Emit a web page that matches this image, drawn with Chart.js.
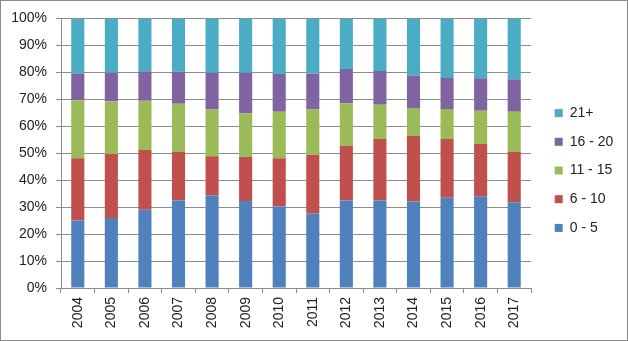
<!DOCTYPE html>
<html>
<head>
<meta charset="utf-8">
<script src="https://cdn.jsdelivr.net/npm/chart.js@4.4.0/dist/chart.umd.min.js"></script>
<style>
    body { margin: 0; background: #fff; }
    #wrap { width: 626px; height: 339px; border: 1px solid #8c8c8c; }
</style>
</head>
<body>
<div id="wrap"><canvas id="ageChart" width="626" height="339"></canvas></div>
<script>
// Chart data (share of each age band, %)
const years = ['2004', '2005', '2006', '2007', '2008', '2009', '2010', '2011', '2012', '2013', '2014', '2015', '2016', '2017'];
const band0to5 = [25.0, 26.0, 29.0, 32.5, 34.3, 32.3, 30.2, 27.6, 32.5, 32.5, 32.1, 33.5, 34.0, 31.8];
const band6to10 = [23.1, 23.7, 22.2, 17.9, 14.6, 16.3, 17.9, 21.8, 20.2, 22.8, 24.3, 21.8, 19.4, 18.6];
const band11to15 = [21.5, 19.6, 18.3, 17.9, 17.3, 16.2, 17.3, 16.8, 15.8, 12.7, 10.4, 11.1, 12.3, 15.0];
const band16to20 = [10.0, 10.5, 10.9, 11.9, 13.6, 15.0, 14.0, 13.4, 12.7, 12.5, 12.0, 11.5, 12.1, 12.0];
const band21plus = [20.4, 20.2, 19.6, 19.8, 20.2, 20.2, 20.6, 20.4, 18.8, 19.5, 21.2, 22.1, 22.2, 22.6];
const yTicks = [0, 10, 20, 30, 40, 50, 60, 70, 80, 90, 100];

const FONT = 'Liberation Sans, Arial, sans-serif';
const GRID = '#8c8c8c';

// Put the legend where Excel had it (right side, centred on the canvas)
const legendPlace = {
    id: 'legendPlace',
    afterLayout(chart) {
        const lg = chart.legend;
        lg.left = 539;
        lg.right = chart.width;
        lg.top = 0;
        lg.bottom = chart.height;
    }
};

const ctx = document.getElementById('ageChart').getContext('2d');

new Chart(ctx, {
    type: 'bar',
    data: {
        labels: years,
        datasets: [
            { label: '0 - 5', data: band0to5, backgroundColor: '#4F81BD' },
            { label: '6 - 10', data: band6to10, backgroundColor: '#C0504D' },
            { label: '11 - 15', data: band11to15, backgroundColor: '#9BBB59' },
            { label: '16 - 20', data: band16to20, backgroundColor: '#8064A2' },
            { label: '21+', data: band21plus, backgroundColor: '#4BACC6' }
        ]
    },
    options: {
        responsive: false,
        animation: false,
        datasets: {
            bar: { barPercentage: 0.39, categoryPercentage: 1.0 }
        },
        layout: {
            padding: { top: 17, right: 26, bottom: 0, left: 0 }
        },
        scales: {
            x: {
                stacked: true,
                afterFit: function(scale) { scale.height = 52; },
                grid: {
                    offset: true,
                    drawOnChartArea: false,
                    drawTicks: true,
                    tickLength: 5,
                    color: GRID
                },
                border: { color: GRID },
                ticks: {
                    minRotation: 90,
                    maxRotation: 90,
                    padding: 4,
                    color: '#222',
                    font: { family: FONT, size: 14 }
                }
            },
            y: {
                stacked: true,
                min: 0,
                max: 100,
                afterFit: function(scale) { scale.width = 60; },
                afterBuildTicks: function(scale) {
                    scale.ticks = yTicks.map(v => ({ value: v }));
                },
                grid: {
                    color: GRID,
                    tickLength: 5
                },
                border: { color: GRID },
                ticks: {
                    padding: 9,
                    color: '#222',
                    font: { family: FONT, size: 14 },
                    callback: function(value) {
                        return value + '%';
                    }
                }
            }
        },
        plugins: {
            legend: {
                position: 'right',
                reverse: true,
                maxWidth: 70,
                labels: {
                    boxWidth: 8,
                    boxHeight: 8,
                    padding: 14.7,
                    color: '#222',
                    font: { family: FONT, size: 14 }
                }
            },
            tooltip: { enabled: false }
        }
    },
    plugins: [legendPlace]
});
</script>
</body>
</html>
